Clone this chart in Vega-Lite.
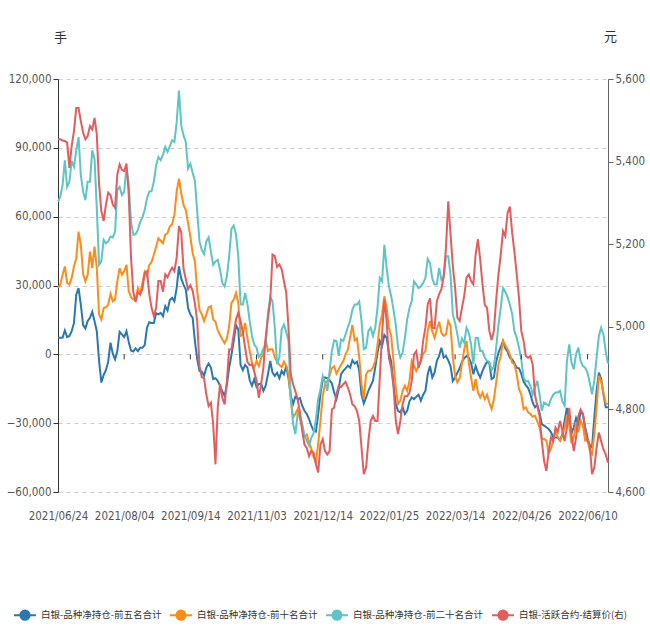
{
  "$schema": "https://vega.github.io/schema/vega-lite/v6.json",
  "width": 550,
  "height": 413,
  "autosize": "none",
  "padding": {"left": 58, "top": 79, "right": 42, "bottom": 148},
  "background": "white",
  "config": {
    "view": {"stroke": null},
    "axis": {"labelFont": "DejaVu Sans Condensed, Liberation Sans Narrow, Liberation Sans", "labelFontSize": 11.5, "labelColor": "#555"}
  },
  "data": {"values": [
{"d":"2021/06/24","a":7200,"b":28900,"c":66500,"p":5454},
{"d":"2021/06/25","a":7200,"b":30400,"c":68700,"p":5454},
{"d":"2021/06/28","a":7200,"b":34700,"c":73700,"p":5451},
{"d":"2021/06/29","a":10400,"b":38300,"c":84600,"p":5450},
{"d":"2021/06/30","a":7500,"b":31100,"c":73000,"p":5446},
{"d":"2021/07/01","a":8000,"b":30400,"c":75200,"p":5385},
{"d":"2021/07/02","a":10100,"b":33300,"c":84200,"p":5438},
{"d":"2021/07/05","a":13700,"b":38300,"c":81700,"p":5474},
{"d":"2021/07/06","a":26000,"b":41900,"c":88900,"p":5530},
{"d":"2021/07/07","a":28900,"b":53500,"c":94700,"p":5530},
{"d":"2021/07/08","a":21700,"b":47700,"c":78100,"p":5498},
{"d":"2021/07/09","a":12700,"b":35000,"c":70900,"p":5470},
{"d":"2021/07/12","a":11300,"b":31800,"c":67200,"p":5454},
{"d":"2021/07/13","a":14500,"b":34700,"c":75200,"p":5462},
{"d":"2021/07/14","a":15900,"b":44800,"c":75200,"p":5486},
{"d":"2021/07/15","a":18500,"b":37600,"c":88900,"p":5478},
{"d":"2021/07/16","a":14500,"b":47000,"c":85300,"p":5506},
{"d":"2021/07/19","a":10100,"b":37600,"c":63600,"p":5466},
{"d":"2021/07/20","a":-2900,"b":17400,"c":39000,"p":5345},
{"d":"2021/07/21","a":-12300,"b":15200,"c":40500,"p":5280},
{"d":"2021/07/22","a":-9000,"b":20200,"c":49900,"p":5256},
{"d":"2021/07/23","a":-6900,"b":20500,"c":48400,"p":5296},
{"d":"2021/07/26","a":-3200,"b":21700,"c":49200,"p":5325},
{"d":"2021/07/27","a":5100,"b":26300,"c":51300,"p":5319},
{"d":"2021/07/28","a":300,"b":23100,"c":50900,"p":5296},
{"d":"2021/07/29","a":-2200,"b":23900,"c":53500,"p":5288},
{"d":"2021/07/30","a":1400,"b":31800,"c":71600,"p":5369},
{"d":"2021/08/02","a":9800,"b":37600,"c":73000,"p":5393},
{"d":"2021/08/03","a":8700,"b":34700,"c":69400,"p":5380},
{"d":"2021/08/04","a":7500,"b":36200,"c":70900,"p":5377},
{"d":"2021/08/05","a":10100,"b":39000,"c":81700,"p":5395},
{"d":"2021/08/06","a":5400,"b":27500,"c":73700,"p":5321},
{"d":"2021/08/09","a":1700,"b":24900,"c":57800,"p":5167},
{"d":"2021/08/10","a":1200,"b":23900,"c":52100,"p":5083},
{"d":"2021/08/11","a":2600,"b":23900,"c":52300,"p":5060},
{"d":"2021/08/12","a":1400,"b":28900,"c":54200,"p":5083},
{"d":"2021/08/13","a":2900,"b":26300,"c":57600,"p":5079},
{"d":"2021/08/16","a":2900,"b":31100,"c":59700,"p":5091},
{"d":"2021/08/17","a":4000,"b":35900,"c":62900,"p":5131},
{"d":"2021/08/18","a":11600,"b":34000,"c":68000,"p":5135},
{"d":"2021/08/19","a":14000,"b":39000,"c":70900,"p":5079},
{"d":"2021/08/20","a":13700,"b":40200,"c":71100,"p":5046},
{"d":"2021/08/23","a":13700,"b":43400,"c":75200,"p":5026},
{"d":"2021/08/24","a":17900,"b":47000,"c":82400,"p":5046},
{"d":"2021/08/25","a":17400,"b":50600,"c":86000,"p":5111},
{"d":"2021/08/26","a":18100,"b":49500,"c":84600,"p":5111},
{"d":"2021/08/27","a":16600,"b":48400,"c":87000,"p":5085},
{"d":"2021/08/30","a":21000,"b":52100,"c":90400,"p":5127},
{"d":"2021/08/31","a":19100,"b":52800,"c":88200,"p":5120},
{"d":"2021/09/01","a":23700,"b":55700,"c":90800,"p":5133},
{"d":"2021/09/02","a":24600,"b":56700,"c":93300,"p":5143},
{"d":"2021/09/03","a":23100,"b":60700,"c":92500,"p":5135},
{"d":"2021/09/06","a":28900,"b":70900,"c":101200,"p":5167},
{"d":"2021/09/07","a":38300,"b":76600,"c":115000,"p":5244},
{"d":"2021/09/08","a":33000,"b":70100,"c":99800,"p":5228},
{"d":"2021/09/09","a":30400,"b":65100,"c":95400,"p":5141},
{"d":"2021/09/10","a":28200,"b":62900,"c":92500,"p":5115},
{"d":"2021/09/13","a":20200,"b":57100,"c":81000,"p":5091},
{"d":"2021/09/14","a":17400,"b":51300,"c":83100,"p":5101},
{"d":"2021/09/15","a":15900,"b":44100,"c":79100,"p":5087},
{"d":"2021/09/16","a":5800,"b":40500,"c":75500,"p":5056},
{"d":"2021/09/17","a":-2200,"b":27500,"c":62200,"p":5014},
{"d":"2021/09/22","a":-7200,"b":19400,"c":49200,"p":4905},
{"d":"2021/09/23","a":-7500,"b":17400,"c":45500,"p":4878},
{"d":"2021/09/24","a":-9400,"b":14500,"c":43700,"p":4875},
{"d":"2021/09/27","a":-5800,"b":17400,"c":49200,"p":4836},
{"d":"2021/09/28","a":-4000,"b":20500,"c":51000,"p":4808},
{"d":"2021/09/29","a":-5800,"b":21000,"c":44800,"p":4816},
{"d":"2021/09/30","a":-10800,"b":15200,"c":39000,"p":4764},
{"d":"2021/10/08","a":-10400,"b":14200,"c":40500,"p":4667},
{"d":"2021/10/11","a":-11600,"b":10400,"c":41200,"p":4804},
{"d":"2021/10/12","a":-13700,"b":8400,"c":36900,"p":4861},
{"d":"2021/10/13","a":-16200,"b":6500,"c":31100,"p":4828},
{"d":"2021/10/14","a":-18100,"b":4900,"c":29600,"p":4812},
{"d":"2021/10/15","a":-13300,"b":6900,"c":34000,"p":4869},
{"d":"2021/10/18","a":-5800,"b":12300,"c":42700,"p":4945},
{"d":"2021/10/19","a":-300,"b":22400,"c":54700,"p":4945},
{"d":"2021/10/20","a":5800,"b":23900,"c":56100,"p":4982},
{"d":"2021/10/21","a":12700,"b":26800,"c":52300,"p":5018},
{"d":"2021/10/22","a":10800,"b":22400,"c":42700,"p":5034},
{"d":"2021/10/25","a":-4600,"b":8000,"c":21700,"p":5014},
{"d":"2021/10/26","a":-6900,"b":8700,"c":21700,"p":4986},
{"d":"2021/10/27","a":-4600,"b":13700,"c":26600,"p":4949},
{"d":"2021/10/28","a":-5800,"b":7200,"c":22000,"p":4915},
{"d":"2021/10/29","a":-11300,"b":1400,"c":14500,"p":4907},
{"d":"2021/11/01","a":-13700,"b":-3600,"c":8000,"p":4909},
{"d":"2021/11/02","a":-10800,"b":-5800,"c":4300,"p":4891},
{"d":"2021/11/03","a":-14200,"b":-2900,"c":2900,"p":4870},
{"d":"2021/11/04","a":-13000,"b":-5100,"c":-1200,"p":4828},
{"d":"2021/11/05","a":-12700,"b":-1700,"c":0,"p":4861},
{"d":"2021/11/08","a":-15900,"b":0,"c":2600,"p":4901},
{"d":"2021/11/09","a":-13700,"b":6500,"c":4300,"p":4974},
{"d":"2021/11/10","a":-8700,"b":1400,"c":18100,"p":5022},
{"d":"2021/11/11","a":-2900,"b":2200,"c":24900,"p":5062},
{"d":"2021/11/12","a":-8000,"b":2200,"c":23100,"p":5175},
{"d":"2021/11/15","a":-9400,"b":-1400,"c":11600,"p":5171},
{"d":"2021/11/16","a":-8000,"b":-3200,"c":-4300,"p":5145},
{"d":"2021/11/17","a":-10400,"b":-4600,"c":-1400,"p":5151},
{"d":"2021/11/18","a":-7200,"b":-5500,"c":10800,"p":5139},
{"d":"2021/11/19","a":-8700,"b":-3200,"c":13000,"p":5111},
{"d":"2021/11/22","a":-5100,"b":-5100,"c":9800,"p":5083},
{"d":"2021/11/23","a":-10400,"b":-8700,"c":5800,"p":4998},
{"d":"2021/11/24","a":-18100,"b":-19500,"c":-18800,"p":4885},
{"d":"2021/11/25","a":-21700,"b":-27500,"c":-30100,"p":4861},
{"d":"2021/11/26","a":-18500,"b":-26000,"c":-34700,"p":4844},
{"d":"2021/11/29","a":-19500,"b":-23900,"c":-26000,"p":4824},
{"d":"2021/11/30","a":-19100,"b":-28200,"c":-26300,"p":4794},
{"d":"2021/12/01","a":-22400,"b":-31800,"c":-30400,"p":4748},
{"d":"2021/12/02","a":-24600,"b":-35900,"c":-35400,"p":4715},
{"d":"2021/12/03","a":-26000,"b":-35000,"c":-37600,"p":4707},
{"d":"2021/12/06","a":-28200,"b":-38300,"c":-39800,"p":4687},
{"d":"2021/12/07","a":-31100,"b":-41200,"c":-36400,"p":4699},
{"d":"2021/12/08","a":-33300,"b":-44800,"c":-34400,"p":4695},
{"d":"2021/12/09","a":-33700,"b":-47000,"c":-28200,"p":4667},
{"d":"2021/12/10","a":-26300,"b":-39000,"c":-19500,"p":4647},
{"d":"2021/12/13","a":-17100,"b":-28900,"c":-15200,"p":4715},
{"d":"2021/12/14","a":-11300,"b":-18100,"c":-9400,"p":4728},
{"d":"2021/12/15","a":-10100,"b":-13000,"c":-12000,"p":4699},
{"d":"2021/12/16","a":-10400,"b":-11600,"c":-15900,"p":4691},
{"d":"2021/12/17","a":-11300,"b":-9400,"c":-7200,"p":4699},
{"d":"2021/12/20","a":-12700,"b":-6100,"c":1400,"p":4800},
{"d":"2021/12/21","a":-16600,"b":-5200,"c":6100,"p":4804},
{"d":"2021/12/22","a":-19500,"b":-8400,"c":5800,"p":4836},
{"d":"2021/12/23","a":-15200,"b":-6500,"c":-700,"p":4857},
{"d":"2021/12/24","a":-8700,"b":-4600,"c":6500,"p":4854},
{"d":"2021/12/27","a":-7200,"b":-2900,"c":5800,"p":4861},
{"d":"2021/12/28","a":-6100,"b":0,"c":8700,"p":4867},
{"d":"2021/12/29","a":-4900,"b":2000,"c":11900,"p":4853},
{"d":"2021/12/30","a":-5800,"b":7500,"c":14500,"p":4836},
{"d":"2021/12/31","a":-2600,"b":12700,"c":19500,"p":4812},
{"d":"2022/01/04","a":-4000,"b":6100,"c":21700,"p":4808},
{"d":"2022/01/05","a":-3200,"b":6900,"c":21700,"p":4796},
{"d":"2022/01/06","a":-7200,"b":-1400,"c":23100,"p":4772},
{"d":"2022/01/07","a":-17600,"b":-13000,"c":14500,"p":4707},
{"d":"2022/01/10","a":-21400,"b":-19500,"c":2200,"p":4643},
{"d":"2022/01/11","a":-18800,"b":-8700,"c":2900,"p":4659},
{"d":"2022/01/12","a":-15900,"b":-7200,"c":10100,"p":4723},
{"d":"2022/01/13","a":-13700,"b":-7200,"c":11600,"p":4772},
{"d":"2022/01/14","a":-11600,"b":-5800,"c":8000,"p":4784},
{"d":"2022/01/17","a":-5800,"b":-2900,"c":11600,"p":4772},
{"d":"2022/01/18","a":700,"b":4300,"c":20200,"p":4772},
{"d":"2022/01/19","a":5800,"b":13000,"c":33300,"p":4877},
{"d":"2022/01/20","a":3600,"b":17400,"c":31800,"p":4982},
{"d":"2022/01/21","a":8400,"b":25300,"c":47700,"p":5066},
{"d":"2022/01/24","a":7200,"b":20200,"c":37600,"p":5014},
{"d":"2022/01/25","a":700,"b":11600,"c":29600,"p":4925},
{"d":"2022/01/26","a":-3200,"b":8000,"c":25300,"p":4901},
{"d":"2022/01/27","a":-13000,"b":-2900,"c":19500,"p":4857},
{"d":"2022/01/28","a":-21700,"b":-14500,"c":13000,"p":4772},
{"d":"2022/02/07","a":-24600,"b":-21700,"c":2900,"p":4740},
{"d":"2022/02/08","a":-25300,"b":-20200,"c":-1400,"p":4772},
{"d":"2022/02/09","a":-23100,"b":-15900,"c":700,"p":4812},
{"d":"2022/02/10","a":-26000,"b":-13700,"c":7200,"p":4832},
{"d":"2022/02/11","a":-24600,"b":-15900,"c":15200,"p":4832},
{"d":"2022/02/14","a":-20500,"b":-11600,"c":20200,"p":4840},
{"d":"2022/02/15","a":-18800,"b":-2900,"c":23100,"p":4869},
{"d":"2022/02/16","a":-19500,"b":-5100,"c":31800,"p":4933},
{"d":"2022/02/17","a":-18500,"b":-7200,"c":30400,"p":4941},
{"d":"2022/02/18","a":-17600,"b":-5100,"c":28900,"p":4901},
{"d":"2022/02/21","a":-20200,"b":-2900,"c":29600,"p":4917},
{"d":"2022/02/22","a":-17600,"b":300,"c":31100,"p":4966},
{"d":"2022/02/23","a":-15900,"b":1400,"c":33300,"p":4998},
{"d":"2022/02/24","a":-8700,"b":10100,"c":41600,"p":5054},
{"d":"2022/02/25","a":-5100,"b":14500,"c":39800,"p":5069},
{"d":"2022/02/28","a":-10100,"b":10100,"c":33000,"p":4998},
{"d":"2022/03/01","a":-8000,"b":7200,"c":30400,"p":4996},
{"d":"2022/03/02","a":-2900,"b":10800,"c":30400,"p":5062},
{"d":"2022/03/03","a":-700,"b":14200,"c":37600,"p":5079},
{"d":"2022/03/04","a":2900,"b":9400,"c":32500,"p":5091},
{"d":"2022/03/07","a":-1400,"b":8000,"c":33500,"p":5123},
{"d":"2022/03/08","a":-700,"b":8700,"c":42700,"p":5191},
{"d":"2022/03/09","a":-2600,"b":14500,"c":42700,"p":5304},
{"d":"2022/03/10","a":-5100,"b":12300,"c":34700,"p":5224},
{"d":"2022/03/11","a":-11600,"b":-1400,"c":17400,"p":5147},
{"d":"2022/03/14","a":-10100,"b":-9400,"c":13700,"p":5095},
{"d":"2022/03/15","a":-8000,"b":-12300,"c":8700,"p":5022},
{"d":"2022/03/16","a":-6100,"b":-10400,"c":2900,"p":5014},
{"d":"2022/03/17","a":-3200,"b":-4300,"c":6900,"p":5046},
{"d":"2022/03/18","a":-1700,"b":2200,"c":5100,"p":5075},
{"d":"2022/03/21","a":-700,"b":5800,"c":11600,"p":5119},
{"d":"2022/03/22","a":-1400,"b":-3600,"c":9400,"p":5127},
{"d":"2022/03/23","a":-3800,"b":-10100,"c":4300,"p":5111},
{"d":"2022/03/24","a":-8700,"b":-15900,"c":-4300,"p":5103},
{"d":"2022/03/25","a":-5100,"b":-10800,"c":7200,"p":5175},
{"d":"2022/03/28","a":-8000,"b":-16600,"c":7200,"p":5212},
{"d":"2022/03/29","a":-10100,"b":-18800,"c":1400,"p":5163},
{"d":"2022/03/30","a":-7200,"b":-16600,"c":1400,"p":5103},
{"d":"2022/03/31","a":-5100,"b":-19500,"c":-1400,"p":5053},
{"d":"2022/04/01","a":-3200,"b":-17600,"c":-2900,"p":5046},
{"d":"2022/04/06","a":-3800,"b":-21000,"c":-3200,"p":4990},
{"d":"2022/04/07","a":-10800,"b":-23900,"c":-6900,"p":4968},
{"d":"2022/04/08","a":-10100,"b":-19500,"c":-5500,"p":4990},
{"d":"2022/04/11","a":-3200,"b":-12300,"c":2900,"p":5066},
{"d":"2022/04/12","a":700,"b":-4300,"c":13000,"p":5127},
{"d":"2022/04/13","a":3200,"b":-700,"c":20200,"p":5175},
{"d":"2022/04/14","a":5800,"b":5800,"c":28900,"p":5232},
{"d":"2022/04/15","a":2600,"b":4000,"c":27200,"p":5220},
{"d":"2022/04/18","a":1200,"b":2200,"c":24900,"p":5276},
{"d":"2022/04/19","a":-1400,"b":0,"c":21700,"p":5291},
{"d":"2022/04/20","a":-2200,"b":-3600,"c":17600,"p":5228},
{"d":"2022/04/21","a":-3900,"b":-4300,"c":10100,"p":5181},
{"d":"2022/04/22","a":-5800,"b":-8700,"c":7200,"p":5127},
{"d":"2022/04/25","a":-6100,"b":-15200,"c":2900,"p":5070},
{"d":"2022/04/26","a":-8400,"b":-17400,"c":-2200,"p":4990},
{"d":"2022/04/27","a":-11900,"b":-23900,"c":-10100,"p":4966},
{"d":"2022/04/28","a":-13400,"b":-23100,"c":-11900,"p":4929},
{"d":"2022/04/29","a":-14700,"b":-25300,"c":-11600,"p":4925},
{"d":"2022/05/05","a":-17400,"b":-26000,"c":-13700,"p":4929},
{"d":"2022/05/06","a":-21000,"b":-27200,"c":-17400,"p":4909},
{"d":"2022/05/09","a":-23100,"b":-26800,"c":-14500,"p":4836},
{"d":"2022/05/10","a":-22000,"b":-29200,"c":-11600,"p":4808},
{"d":"2022/05/11","a":-25300,"b":-31800,"c":-17400,"p":4784},
{"d":"2022/05/12","a":-30400,"b":-36900,"c":-24600,"p":4723},
{"d":"2022/05/13","a":-31100,"b":-36900,"c":-21000,"p":4675},
{"d":"2022/05/16","a":-31800,"b":-37600,"c":-21700,"p":4651},
{"d":"2022/05/17","a":-32500,"b":-43100,"c":-22400,"p":4699},
{"d":"2022/05/18","a":-34000,"b":-41200,"c":-19500,"p":4732},
{"d":"2022/05/19","a":-36200,"b":-37600,"c":-17600,"p":4723},
{"d":"2022/05/20","a":-36200,"b":-33300,"c":-16600,"p":4756},
{"d":"2022/05/23","a":-36200,"b":-36200,"c":-16600,"p":4746},
{"d":"2022/05/24","a":-37600,"b":-37600,"c":-15900,"p":4772},
{"d":"2022/05/25","a":-34700,"b":-35400,"c":-20500,"p":4748},
{"d":"2022/05/26","a":-28900,"b":-32100,"c":-22400,"p":4723},
{"d":"2022/05/27","a":-23400,"b":-26800,"c":-2900,"p":4756},
{"d":"2022/05/30","a":-28900,"b":-31100,"c":4300,"p":4804},
{"d":"2022/05/31","a":-34400,"b":-38800,"c":-3600,"p":4740},
{"d":"2022/06/01","a":-31800,"b":-36200,"c":-6500,"p":4699},
{"d":"2022/06/02","a":-27800,"b":-29600,"c":0,"p":4732},
{"d":"2022/06/06","a":-30400,"b":-34000,"c":2900,"p":4784},
{"d":"2022/06/07","a":-25300,"b":-28900,"c":-2900,"p":4800},
{"d":"2022/06/08","a":-26000,"b":-31100,"c":-5100,"p":4790},
{"d":"2022/06/09","a":-31800,"b":-37600,"c":-5800,"p":4752},
{"d":"2022/06/10","a":-36200,"b":-36900,"c":-8000,"p":4723},
{"d":"2022/06/13","a":-39800,"b":-41900,"c":-12300,"p":4715},
{"d":"2022/06/14","a":-40500,"b":-43400,"c":-17400,"p":4643},
{"d":"2022/06/15","a":-27500,"b":-34700,"c":-11600,"p":4659},
{"d":"2022/06/16","a":-15900,"b":-23100,"c":-1400,"p":4707},
{"d":"2022/06/17","a":-8000,"b":-9400,"c":8000,"p":4744},
{"d":"2022/06/20","a":-10800,"b":-11600,"c":11600,"p":4723},
{"d":"2022/06/21","a":-17400,"b":-16600,"c":8700,"p":4703},
{"d":"2022/06/22","a":-23100,"b":-21400,"c":1400,"p":4691},
{"d":"2022/06/23","a":-23100,"b":-21700,"c":-4000,"p":4671}
  ]},
  "encoding": {
    "x": {
      "field": "d", "type": "ordinal", "sort": null,
      "scale": {"type": "point", "padding": 0},
      "axis": {
        "title": null, "labelAngle": 0, "ticks": false, "domain": false, "grid": false,
        "labelPadding": 18,
        "values": ["2021/06/24","2021/08/04","2021/09/14","2021/11/03","2021/12/14","2022/01/25","2022/03/14","2022/04/26","2022/06/10"]
      }
    }
  },
  "layer": [
    {
      "layer": [
        {
          "transform": [{"fold": ["a", "b", "c"], "as": ["s", "v"]}],
          "mark": {"type": "line", "strokeWidth": 2},
          "encoding": {
            "y": {
              "field": "v", "type": "quantitative",
              "scale": {"domain": [-60000, 120000], "nice": false, "zero": false},
              "axis": {
                "orient": "left", "values": [-60000, -30000, 0, 30000, 60000, 90000, 120000],
                "format": ",d", "grid": true, "gridDash": [4, 4], "gridColor": "#cccccc",
                "domainColor": "#333", "tickColor": "#333", "tickSize": 5, "labelPadding": 2,
                "title": "手", "titleAngle": 0, "titleX": 2, "titleY": -42, "titleAlign": "center",
                "titleBaseline": "middle", "titleFont": "Noto Sans CJK SC", "titleFontSize": 13,
                "titleFontWeight": "normal", "titleColor": "#333"
              }
            },
            "color": {
              "field": "s", "type": "nominal",
              "scale": {"domain": ["a", "b", "c", "p"], "range": ["#2a78b0", "#ff8c1a", "#5ec4c4", "#e25d5d"]},
              "legend": {
                "orient": "none", "legendX": -45, "legendY": 524, "direction": "horizontal",
                "title": null, "columns": 4, "columnPadding": 4,
                "symbolType": "M-1,0H1M0.42,0A0.42,0.42,0,1,1,-0.42,0A0.42,0.42,0,1,1,0.42,0",
                "symbolSize": 484, "symbolStrokeWidth": 2, "labelOffset": 4,
                "labelFont": "Noto Sans CJK SC", "labelFontSize": 9.5, "labelColor": "#333",
                "labelExpr": "datum.label == 'a' ? '白银-品种净持仓-前五名合计' : datum.label == 'b' ? '白银-品种净持仓-前十名合计' : datum.label == 'c' ? '白银-品种净持仓-前二十名合计' : '白银-活跃合约-结算价(右)'",
                "encode": {"symbols": {"update": {"fill": {"scale": "color", "field": "value"}, "stroke": {"scale": "color", "field": "value"}}}}
              }
            }
          }
        },
        {
          "mark": {"type": "rule", "color": "#333", "strokeWidth": 1.5},
          "encoding": {"y": {"datum": 0}}
        },
        {
          "transform": [{"filter": {"field": "d", "oneOf": ["2021/08/04","2021/09/14","2021/11/03","2021/12/14","2022/01/25","2022/03/14","2022/04/26","2022/06/10"]}}],
          "mark": {"type": "rule", "color": "#333", "strokeWidth": 1},
          "encoding": {"y": {"datum": 0}, "y2": {"datum": -2200}}
        }
      ]
    },
    {
      "transform": [{"fold": ["p"], "as": ["s", "v"]}],
      "mark": {"type": "line", "strokeWidth": 2},
      "encoding": {
        "y": {
          "field": "v", "type": "quantitative",
          "scale": {"domain": [4600, 5600], "nice": false, "zero": false},
          "axis": {
            "orient": "right", "values": [4600, 4800, 5000, 5200, 5400, 5600], "format": ",d",
            "grid": false, "domainColor": "#666", "tickColor": "#666", "tickSize": 5, "labelPadding": 2,
            "title": "元", "titleAngle": 0, "titleX": 2, "titleY": -43, "titleAlign": "center",
            "titleBaseline": "middle", "titleFont": "Noto Sans CJK SC", "titleFontSize": 13,
            "titleFontWeight": "normal", "titleColor": "#333"
          }
        },
        "color": {"field": "s", "type": "nominal"}
      }
    }
  ],
  "resolve": {"scale": {"y": "independent"}}
}
